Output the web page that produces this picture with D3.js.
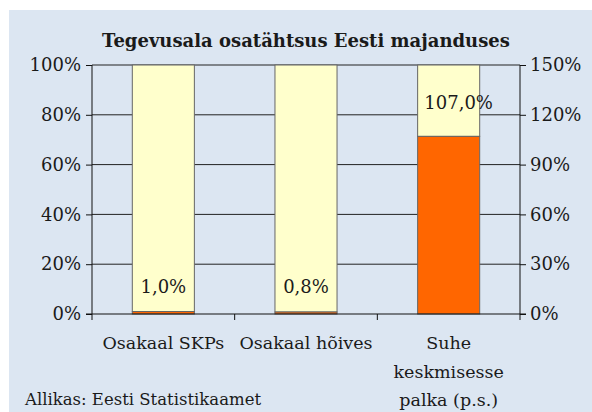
<!DOCTYPE html>
<html>
<head>
<meta charset="utf-8">
<script src="https://cdn.jsdelivr.net/npm/d3@7/dist/d3.min.js"></script>
<style>
  body { margin: 0; background: #fff; }
  svg text { font-family: 'DejaVu Serif', 'Liberation Serif', serif; fill: #1a1a1a; }
</style>
</head>
<body>
<div id="chart"></div>
<script>
// data
var categories = ["Osakaal SKPs", "Osakaal hõives", "Suhe keskmisesse palka (p.s.)"];
var categoryLines = [["Osakaal SKPs"], ["Osakaal hõives"], ["Suhe", "keskmisesse", "palka (p.s.)"]];
var shares = [1.0, 0.8, 107.0];
var shareLabels = ["1,0%", "0,8%", "107,0%"];
var shareAxis = ["left", "left", "right"];
var leftTicks = [0, 20, 40, 60, 80, 100];
var rightTicks = [0, 30, 60, 90, 120, 150];
var title = "Tegevusala osatähtsus Eesti majanduses";
var source = "Allikas: Eesti Statistikaamet";

(function() {
    var W = 592, H = 412;
    var pLeft = 92, pRight = 520, pTop = 65, pBottom = 314;
    var fs = 18;

    var svg = d3.select("#chart").append("svg")
        .attr("width", W).attr("height", H);

    // chart area background
    svg.append("rect")
        .attr("x", 9).attr("y", 10)
        .attr("width", W - 9).attr("height", H - 10)
        .attr("fill", "#dce6f2");

    var x = d3.scaleBand()
        .domain(categories)
        .range([pLeft, pRight])
        .paddingInner(0.565)
        .paddingOuter(0.2825);

    var yL = d3.scaleLinear().domain([0, 100]).range([pBottom, pTop]);
    var yR = d3.scaleLinear().domain([0, 150]).range([pBottom, pTop]);

    // gridlines
    svg.append("g")
        .selectAll("line")
        .data(leftTicks.filter(d => d > 0))
        .join("line")
        .attr("x1", pLeft).attr("x2", pRight)
        .attr("y1", d => yL(d)).attr("y2", d => yL(d))
        .attr("stroke", "#222").attr("stroke-width", 1);

    // bars: orange share + yellow remainder up to axis max
    var bars = svg.append("g");
    categories.forEach(function(c, i) {
        var sc = shareAxis[i] === "left" ? yL : yR;
        var max = sc.domain()[1];
        bars.append("rect")
            .attr("x", x(c)).attr("width", x.bandwidth())
            .attr("y", sc(max)).attr("height", sc(shares[i]) - sc(max))
            .attr("fill", "#ffffcc").attr("stroke", "#666").attr("stroke-width", 1);
        bars.append("rect")
            .attr("x", x(c)).attr("width", x.bandwidth())
            .attr("y", sc(shares[i])).attr("height", sc(0) - sc(shares[i]))
            .attr("fill", "#ff6600").attr("stroke", "#666").attr("stroke-width", 1);
    });

    // value labels
    svg.append("g")
        .selectAll("text")
        .data(categories)
        .join("text")
        .attr("x", (c, i) => x(c) + x.bandwidth() / 2 + (shareAxis[i] === "right" ? 10 : 0))
        .attr("y", (c, i) => shareAxis[i] === "right" ? yR(shares[i]) - 27 : yL(shares[i]) - 19)
        .attr("text-anchor", "middle")
        .attr("font-size", fs)
        .text((c, i) => shareLabels[i]);

    // left and right axes
    var axL = svg.append("g")
        .attr("transform", "translate(" + pLeft + ",0)")
        .call(d3.axisLeft(yL).tickValues(leftTicks).tickSize(6).tickPadding(5).tickFormat(d => d + "%"));
    var axR = svg.append("g")
        .attr("transform", "translate(" + pRight + ",0)")
        .call(d3.axisRight(yR).tickValues(rightTicks).tickSize(6).tickPadding(4).tickFormat(d => d + "%"));
    [axL, axR].forEach(function(a) {
        a.attr("font-family", null);
        a.select(".domain").attr("stroke", "#111").attr("d", "M0," + pTop + "V" + pBottom);
        a.selectAll(".tick line").attr("stroke", "#111");
        a.selectAll(".tick text")
            .attr("font-size", fs)
            .attr("fill", "#1a1a1a");
    });

    // x axis with ticks at category boundaries
    var xAx = svg.append("g");
    xAx.append("line")
        .attr("x1", pLeft - 6).attr("x2", pRight + 6)
        .attr("y1", pBottom).attr("y2", pBottom)
        .attr("stroke", "#111");
    xAx.selectAll("line.tk")
        .data(d3.range(categories.length + 1))
        .join("line")
        .attr("class", "tk")
        .attr("x1", i => pLeft + i * x.step()).attr("x2", i => pLeft + i * x.step())
        .attr("y1", pBottom).attr("y2", pBottom + 6)
        .attr("stroke", "#111");

    // category labels
    var cl = svg.append("g")
        .selectAll("text")
        .data(categories)
        .join("text")
        .attr("x", c => x(c) + x.bandwidth() / 2)
        .attr("y", 349)
        .attr("text-anchor", "middle")
        .attr("font-size", 17.5);
    cl.each(function(c, i) {
        var t = d3.select(this);
        var cx = x(c) + x.bandwidth() / 2;
        categoryLines[i].forEach(function(line, j) {
            t.append("tspan").attr("x", cx).attr("dy", j === 0 ? 0 : 28.5).text(line);
        });
    });

    // title
    svg.append("text")
        .attr("x", (pLeft + pRight) / 2).attr("y", 47)
        .attr("text-anchor", "middle")
        .attr("font-size", 18)
        .attr("font-weight", "bold")
        .text(title);

    // source
    svg.append("text")
        .attr("x", 25).attr("y", 405)
        .attr("font-size", 16.5)
        .text(source);
})();
</script>
</body>
</html>
